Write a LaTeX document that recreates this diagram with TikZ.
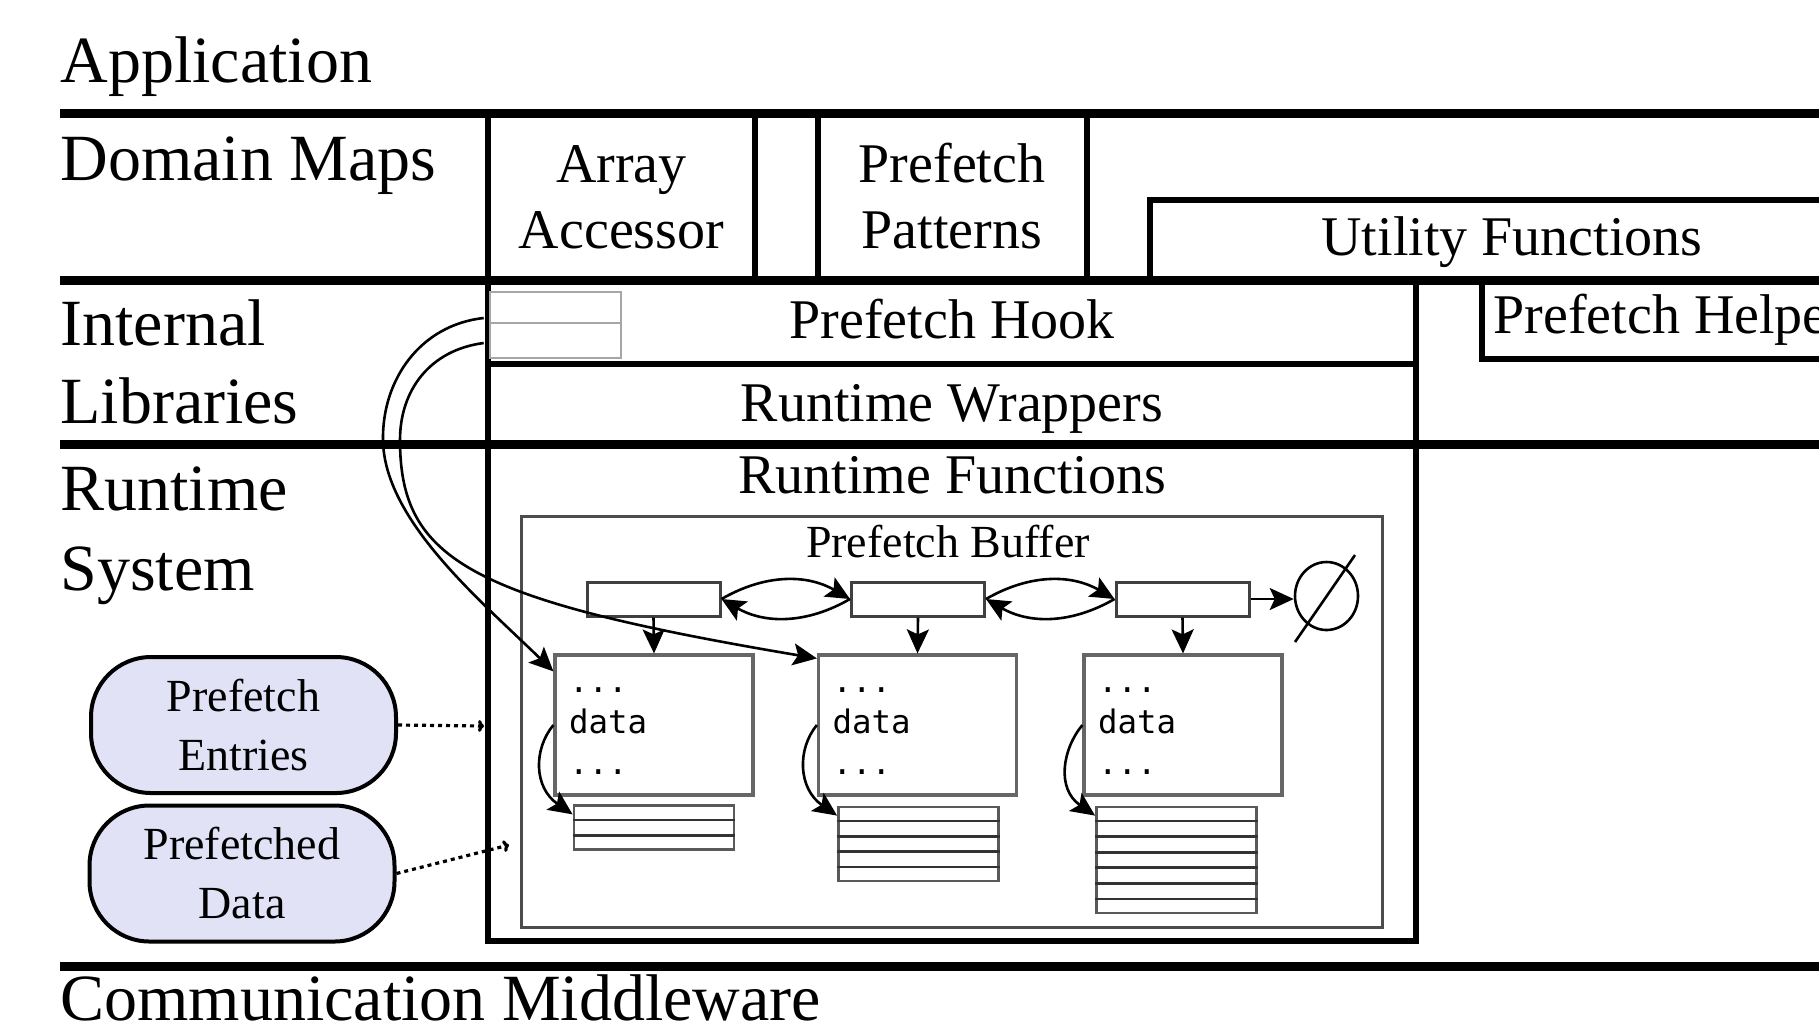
\documentclass[tikz,border=0pt]{standalone}
\usepackage{fontspec}
\setmainfont{Liberation Serif}
\newfontfamily\monofont{DejaVu Sans Mono}
\usetikzlibrary{arrows.meta,shapes.geometric,calc}
\definecolor{lav}{RGB}{226,226,247}
\begin{document}
\begin{tikzpicture}[x=0.5pt,y=-0.5pt,
  layer/.style={line width=4.5pt},
  wall/.style={line width=3.3pt},
  big/.style={font=\fontsize{33}{40}\selectfont, inner sep=0pt},
  mid/.style={font=\fontsize{28}{33}\selectfont, inner sep=0pt},
  sml/.style={font=\fontsize{23}{29}\selectfont, inner sep=0pt},
  cell/.style={draw=black!35, line width=1.3pt, minimum width=65.5pt, inner sep=0pt},
  entry/.style={draw=black!75, line width=1.5pt, minimum width=66.5pt, minimum height=17pt, inner sep=0pt},
  databox/.style={draw=black!60, line width=1.6pt, minimum width=99pt, minimum height=70pt,
     text width=85pt, inner xsep=7pt, inner ysep=0pt, align=left,
     font=\monofont\fontsize{16.2}{20.5}\selectfont},
  stackbox/.style={draw=black!65, line width=1.4pt, minimum width=80pt, inner sep=0pt},
  rowline/.style={draw=black!80, line width=1.3pt},
  ptr/.style={line width=1.3pt, -{Stealth[length=12pt,width=11pt,inset=2.5pt]}},
  oval/.style={draw, line width=2pt, fill=lav, rounded corners=30pt, minimum width=152.5pt,
     minimum height=68pt, align=center, font=\fontsize{23}{29.5}\selectfont, inner sep=0pt},
  dots/.style={line width=1.6pt, dash pattern=on 2pt off 2pt, -{To[length=3pt,width=6pt]}}
]
\useasboundingbox (0,0) rectangle (1819,1030);
\clip (0,0) rectangle (1819,1030);

% layer lines
\draw[layer] (60,113) -- (1830,113);
\draw[layer] (60,280) -- (1830,280);
\draw[layer] (60,444) -- (1830,444);
\draw[layer] (60,966) -- (1830,966);

% main frame
\draw[wall] (488,113) -- (488,941) -- (1416,941) -- (1416,280);
\draw[wall] (488,364) -- (1416,364);
\draw[wall] (755,113) -- (755,280);
\draw[wall] (818,113) -- (818,280);
\draw[wall] (1087,113) -- (1087,280);
\draw[wall] (1150,280) -- (1150,200) -- (1830,200);
\draw[wall] (1482,280) -- (1482,359) -- (1830,359);

% left labels
\node[big, anchor=base west] (tApp) at (60,82) {Application};
\node[big, anchor=base west] (tDM) at (60,180) {Domain Maps};
\node[big, anchor=base west] (tInt) at (60,345) {Internal};
\node[big, anchor=base west] (tLib) at (60,423) {Libraries};
\node[big, anchor=base west] (tRun) at (60,510) {Runtime};
\node[big, anchor=base west] (tSys) at (60,590) {System};
\node[big, anchor=base west] (tCom) at (60,1020) {Communication Middleware};

% inner labels
\node[mid, anchor=base] (tArr) at (621.5,182) {Array};
\node[mid, anchor=base] (tAcc) at (621.5,248) {Accessor};
\node[mid, anchor=base] (tPre) at (952,182) {Prefetch};
\node[mid, anchor=base] (tPat) at (952,248) {Patterns};
\node[mid, anchor=base] (tUti) at (1512,255) {Utility Functions};
\node[mid, anchor=base] (tHook) at (952,338) {Prefetch Hook};
\node[mid, anchor=base] (tWrap) at (952,421) {Runtime Wrappers};
\node[mid, anchor=base] (tRF) at (952,493) {Runtime Functions};
\node[mid, anchor=base west] (tHelp) at (1493,333) {Prefetch Helper};

% hook cells
\node[cell, minimum height=15.5pt] (hookA) at (555.5,307.5) {};
\node[cell, minimum height=17.5pt] (hookB) at (555.5,340.5) {};

% prefetch buffer
\node[draw=black!70, line width=1.5pt, minimum width=430.5pt, minimum height=205.5pt, inner sep=0pt] (pb) at (951.5,721.5) {};
\node[sml, anchor=base] (tPB) at (948,557) {Prefetch Buffer};

% entries
\node[entry] (e1) at (653.5,599) {};
\node[entry] (e2) at (918,599) {};
\node[entry] (e3) at (1182.5,599) {};
\node[draw, ellipse, line width=1.3pt, minimum width=31.5pt, minimum height=34pt, inner sep=0pt] (null) at (1326.5,596) {};
\draw[line width=1.3pt] (1295,642) -- (1355,555);

% data boxes
\node[databox] (d1) at (654,725) {\rule{0pt}{8pt}...\\data\\...};
\node[databox] (d2) at (917.5,725) {\rule{0pt}{8pt}...\\data\\...};
\node[databox] (d3) at (1183,725) {\rule{0pt}{8pt}...\\data\\...};

% stacks
\node[stackbox, minimum height=21.75pt] (s1) at (654,827.5) {};
\node[stackbox, minimum height=37pt] (s2) at (918.5,844) {};
\node[stackbox, minimum height=53pt] (s3) at (1176.5,860) {};
\foreach \i in {1,2}
  \draw[rowline] ($(s1.north west)!\i/3!(s1.south west)$) -- ($(s1.north east)!\i/3!(s1.south east)$);
\foreach \i in {1,...,4}
  \draw[rowline] ($(s2.north west)!\i/5!(s2.south west)$) -- ($(s2.north east)!\i/5!(s2.south east)$);
\foreach \i in {1,...,6}
  \draw[rowline] ($(s3.north west)!\i/7!(s3.south west)$) -- ($(s3.north east)!\i/7!(s3.south east)$);

% ovals
\node[oval] (pe) at (243.5,725) {Prefetch\\Entries};
\node[oval] (pd) at (242,873.5) {Prefetched\\Data};
\coordinate (peIn) at (484,726);
\coordinate (pdIn) at (509,845);
\draw[dots] (pe.east) -- (peIn);
\draw[dots] (pd.east) -- (pdIn);

% list links
\draw[ptr] (e1.east) to[bend left=30] (e2.west);
\draw[ptr] (e2.west) to[bend left=30] (e1.east);
\draw[ptr] (e2.east) to[bend left=30] (e3.west);
\draw[ptr] (e3.west) to[bend left=30] (e2.east);
\draw[ptr] (e3.east) -- (e3.east -| null.west);
\draw[ptr] (e1.south) -- (d1.north);
\draw[ptr] (e2.south) -- (d2.north);
\draw[ptr] (e3.south) -- (d3.north);

% data to stacks
\draw[ptr] (d1.west) .. controls +(-20,24) and +(-39,-27) .. ([yshift=-5pt]s1.north west);
\draw[ptr] (d2.west) .. controls +(-20,24) and +(-39,-27) .. ([yshift=-5pt]s2.north west);
\draw[ptr] (d3.west) .. controls +(-20,24) and +(-39,-27) .. ([yshift=-5pt]s3.north west);

% hook to data
\draw[ptr] ([xshift=-2.5pt,yshift=-5.25pt]hookA.west) .. controls (420,325) and (382,380) .. (383,440)
   .. controls (384,520) and (480,600) .. ([yshift=-9pt]d1.north west);
\draw[ptr] ([xshift=-2.5pt,yshift=-1.25pt]hookB.west) .. controls (430,350) and (400,390) .. (400,440)
   .. controls (400,560) and (470,600) .. ([yshift=-2.5pt]d2.north west);
\end{tikzpicture}
\end{document}
